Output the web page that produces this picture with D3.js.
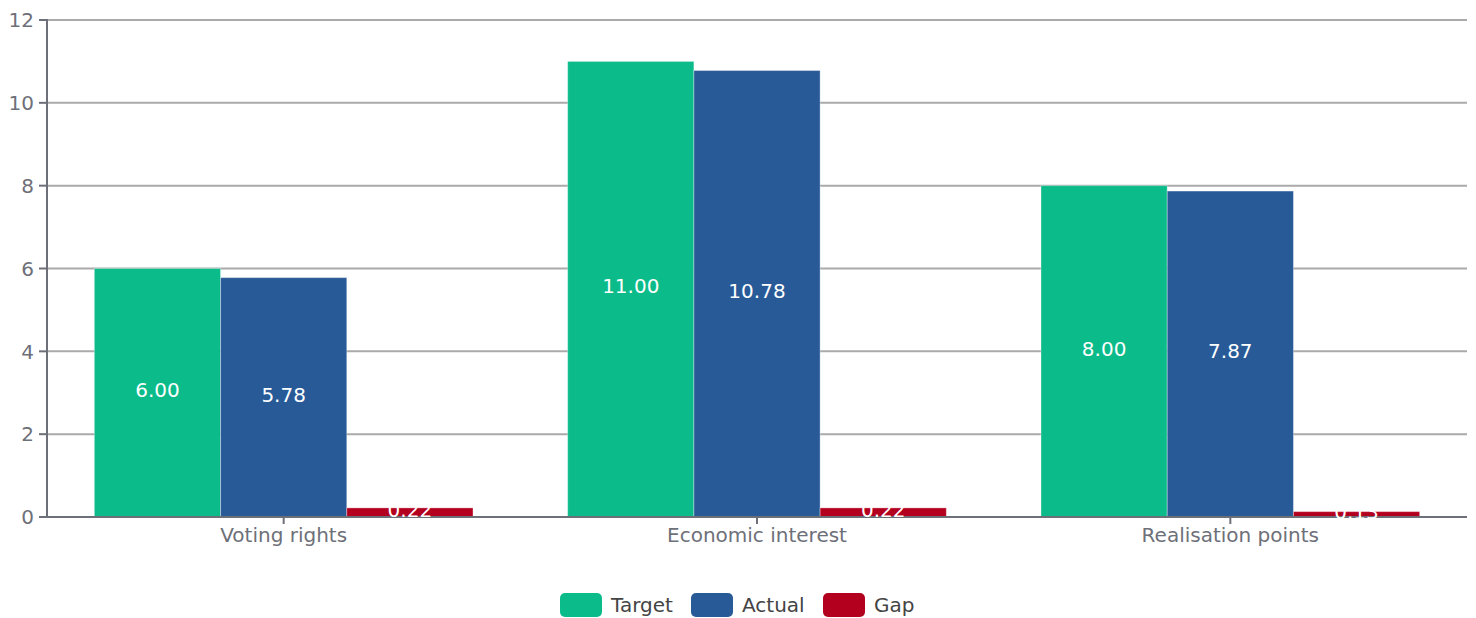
<!DOCTYPE html>
<html>
<head>
<meta charset="utf-8">
<script src="https://cdn.jsdelivr.net/npm/d3@7/dist/d3.min.js"></script>
<style>
  html, body { margin: 0; padding: 0; background: #fff; }
  svg { display: block; font-family: "DejaVu Sans", sans-serif; }
</style>
</head>
<body>
<svg id="chart" width="1476" height="618"></svg>
<script>
const categories = ["Voting rights", "Economic interest", "Realisation points"];
const seriesNames = ["Target", "Actual", "Gap"];
const targetValues = [6.00, 11.00, 8.00];
const actualValues = [5.78, 10.78, 7.87];
const gapValues = [0.22, 0.22, 0.13];
const yTicks = [0, 2, 4, 6, 8, 10, 12];
const colors = ["#0bbb89", "#285a98", "#b3001f"];

const seriesValues = [targetValues, actualValues, gapValues];

const svg = d3.select("#chart");
const margin = { left: 47, right: 9, top: 20, bottom: 101 };
const W = 1476, H = 618;
const fs = 20;

const x = d3.scaleBand().domain(categories)
  .range([margin.left, W - margin.right]).paddingInner(0).paddingOuter(0);
const x1 = d3.scaleBand().domain(seriesNames)
  .range([0, x.bandwidth()]).paddingInner(0).paddingOuter(0.375);
const y = d3.scaleLinear().domain([0, 12]).range([H - margin.bottom, margin.top]);

// horizontal grid
svg.append("g").selectAll("line").data(yTicks.filter(d => d > 0)).join("line")
  .attr("x1", margin.left).attr("x2", W - margin.right)
  .attr("y1", d => y(d)).attr("y2", d => y(d))
  .attr("stroke", "#aaaaaa").attr("stroke-width", 2);

// bars
const groups = svg.append("g").selectAll("g").data(categories).join("g")
  .attr("transform", d => `translate(${x(d)},0)`);

seriesNames.forEach((name, si) => {
  groups.append("rect")
    .attr("x", x1(name))
    .attr("width", x1.bandwidth())
    .attr("y", (d, i) => y(seriesValues[si][i]))
    .attr("height", (d, i) => y(0) - y(seriesValues[si][i]))
    .attr("fill", colors[si])
    .attr("stroke", "rgba(255,255,255,0.35)")
    .attr("stroke-width", 1);
});

// y axis
const yAxis = svg.append("g");
yAxis.append("line")
  .attr("x1", margin.left).attr("x2", margin.left)
  .attr("y1", y(12) - 1).attr("y2", y(0))
  .attr("stroke", "#6e7079").attr("stroke-width", 2);
yAxis.selectAll("line.tick").data(yTicks).join("line").attr("class", "tick")
  .attr("x1", margin.left - 8).attr("x2", margin.left)
  .attr("y1", d => y(d)).attr("y2", d => y(d))
  .attr("stroke", "#6e7079").attr("stroke-width", 2);
yAxis.selectAll("text").data(yTicks).join("text")
  .attr("x", margin.left - 13).attr("y", d => y(d)).attr("dy", "0.36em")
  .attr("text-anchor", "end").attr("fill", "#6e7079").attr("font-size", fs)
  .text(d => d);

// x axis
const xAxis = svg.append("g");
xAxis.append("line")
  .attr("x1", margin.left - 1).attr("x2", W - margin.right)
  .attr("y1", y(0)).attr("y2", y(0))
  .attr("stroke", "#6e7079").attr("stroke-width", 2);
xAxis.selectAll("line.tick").data(categories).join("line").attr("class", "tick")
  .attr("x1", d => x(d) + x.bandwidth() / 2).attr("x2", d => x(d) + x.bandwidth() / 2)
  .attr("y1", y(0)).attr("y2", y(0) + 7)
  .attr("stroke", "#6e7079").attr("stroke-width", 2);
xAxis.selectAll("text").data(categories).join("text")
  .attr("x", d => x(d) + x.bandwidth() / 2).attr("y", y(0) + 18).attr("dy", "0.36em")
  .attr("text-anchor", "middle").attr("fill", "#6e7079").attr("font-size", fs)
  .text(d => d);

// value labels, centred inside each bar
const labels = svg.append("g").selectAll("g").data(categories).join("g")
  .attr("transform", d => `translate(${x(d)},0)`);
seriesNames.forEach((name, si) => {
  labels.append("text")
    .attr("x", x1(name) + x1.bandwidth() / 2)
    .attr("y", (d, i) => (y(seriesValues[si][i]) + y(0)) / 2)
    .attr("dy", "0.21em")
    .attr("text-anchor", "middle")
    .attr("fill", "#ffffff")
    .attr("font-size", fs)
    .text((d, i) => seriesValues[si][i].toFixed(2));
});

// legend
const legendItems = [
  { name: "Target", x: 560 },
  { name: "Actual", x: 691 },
  { name: "Gap", x: 823 }
];
const legend = svg.append("g").selectAll("g").data(legendItems).join("g")
  .attr("transform", d => `translate(${d.x},593)`);
legend.append("rect")
  .attr("width", 42).attr("height", 24).attr("rx", 5)
  .attr("fill", (d, i) => colors[i]);
legend.append("text")
  .attr("x", 51).attr("y", 12).attr("dy", "0.36em")
  .attr("fill", "#444").attr("font-size", fs)
  .text(d => d.name);
</script>
</body>
</html>
